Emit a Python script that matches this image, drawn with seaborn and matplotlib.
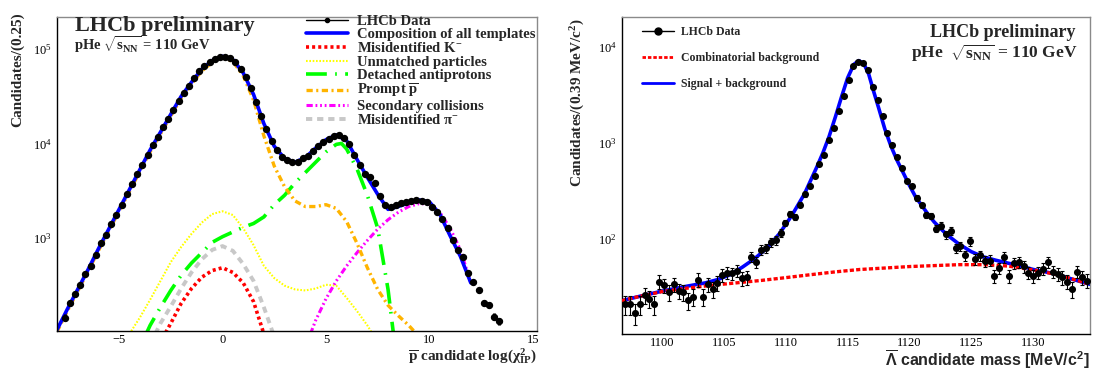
import numpy as np
import pandas as pd
import matplotlib
matplotlib.use("Agg")
import matplotlib.pyplot as plt
import seaborn as sns
from matplotlib.lines import Line2D
from matplotlib.ticker import LogLocator, MultipleLocator, NullFormatter

sns.set_theme(style="white")
plt.rcParams['font.family'] = ['Liberation Serif', 'DejaVu Serif']
plt.rcParams['mathtext.fontset'] = 'custom'
plt.rcParams['mathtext.rm'] = 'Liberation Serif'
plt.rcParams['mathtext.bf'] = 'Liberation Serif:bold'
plt.rcParams['mathtext.it'] = 'Liberation Serif:italic'
plt.rcParams['mathtext.sf'] = 'Liberation Sans:bold'
plt.rcParams['mathtext.default'] = 'regular'
plt.rcParams['lines.scale_dashes'] = False
plt.rcParams['axes.unicode_minus'] = True

# ---------------- Left panel data: log(chi2_IP) ----------------
ip_bin_width = 0.25
ip_centers = np.arange(-7.625, 13.4, ip_bin_width)
ip_counts = [141, 204, 251, 316, 407, 501, 661, 871, 1072, 1380,
             1738, 2239, 2884, 3715, 4786, 5888, 7586, 9550, 11750, 14790,
             18200, 22900, 28200, 34700, 40700, 49000, 58900, 66100, 72400, 79400,
             83200, 83200, 81300, 72400, 61700, 51300, 38900, 27500, 19500, 14100,
             10500, 8510, 7240, 6610, 6310, 6310, 6920, 7410, 8320, 9330,
             10470, 11220, 12020, 12300, 11480, 9770, 7590, 5890, 4790, 4370,
             3800, 2750, 2240, 2140, 2240, 2340, 2400, 2450, 2510, 2450,
             2400, 2140, 1860, 1585, 1260, 955, 741, 617, 417, 339,
             275, 204, 191, 145, 129]

comp_x = [-8, -7.5, -7, -6.5, -6, -5.5, -5, -4.5, -4, -3.5, -3, -2.5, -2, -1.5, -1, -0.5,
          0, 0.5, 1, 1.5, 2, 2.5, 3, 3.5, 4, 4.5, 5, 5.5, 6, 6.5, 7, 7.5, 8, 8.5, 9, 9.5,
          10, 10.5, 11, 11.5, 12]
comp_y = [105, 174, 282, 457, 759, 1230, 1995, 3236, 5248, 8511, 13180, 20420, 31620,
          44670, 61660, 75860, 84140, 77620, 56230, 33110, 16220, 9333, 6918, 6310, 7079,
          8913, 10960, 12300, 10720, 6761, 4365, 2884, 1995, 2138, 2344, 2512, 2399, 1778,
          1047, 631, 331]

prompt_x = [-8, -7.5, -7, -6.5, -6, -5.5, -5, -4.5, -4, -3.5, -3, -2.5, -2, -1.5, -1, -0.5,
            0, 0.5, 1, 1.5, 2, 2.5, 3, 3.5, 4, 4.5, 5, 5.5, 6, 6.5, 7, 7.5, 8, 8.5, 9, 9.5]
prompt_y = [100, 166, 269, 437, 724, 1175, 1905, 3090, 5012, 8128, 12590, 19500, 30200,
            42660, 58880, 72440, 81280, 74130, 52480, 28840, 12020, 5754, 3467, 2455, 2138,
            2138, 2239, 2042, 1479, 871, 479, 282, 191, 148, 117, 89]

detached_x = [-3.75, -3.5, -3, -2.5, -2, -1.5, -1, -0.5, 0, 0.5, 1, 1.5, 2, 2.5, 3, 3.5,
              4, 4.5, 5, 5.5, 5.75, 6, 6.5, 7, 7.5, 8, 8.25, 8.4]
detached_y = [89, 117, 182, 275, 398, 537, 692, 891, 1023, 1148, 1288, 1413, 1660, 2239,
              2818, 3802, 4898, 6310, 8128, 9772, 10000, 8710, 5370, 2818, 1259, 282, 100, 63]

unmatched_x = [-4.5, -4, -3.5, -3, -2.5, -2, -1.5, -1, -0.5, 0, 0.5, 1, 1.5, 2, 2.5, 3,
               3.5, 4, 4.5, 5, 5.5, 6, 6.5, 7, 7.25]
unmatched_y = [95, 141, 219, 347, 550, 794, 1096, 1445, 1778, 1905, 1738, 1259, 832, 501,
               372, 309, 282, 275, 288, 316, 309, 229, 166, 117, 95]

mispi_x = [-3.25, -3, -2.5, -2, -1.5, -1, -0.5, 0, 0.5, 1, 1.5, 2, 2.5]
mispi_y = [95, 123, 186, 288, 427, 589, 741, 813, 724, 525, 347, 182, 89]

misk_x = [-2.75, -2.5, -2, -1.5, -1, -0.5, 0, 0.5, 1, 1.5, 2]
misk_y = [98, 123, 200, 288, 380, 447, 479, 427, 331, 209, 95]

second_x = [4.25, 4.5, 5, 5.5, 6, 6.5, 7, 7.5, 8, 8.5, 9, 9.5, 10, 10.5, 11, 11.5, 12]
second_y = [95, 132, 224, 347, 501, 692, 933, 1230, 1549, 1862, 2138, 2291, 2291, 1862,
            1259, 741, 331]

# ---------------- Right panel data: Lambda-bar mass ----------------
mass_bin_width = 0.393
mass_centers = np.round(1097.0 + mass_bin_width * np.arange(96), 3)
mass_counts = [21, 21, 17, 21, 26, 24, 21, 36, 33, 28,
               34, 29, 28, 23, 25, 38, 25, 34, 30, 35,
               42, 45, 44, 47, 39, 40, 66, 58, 78, 81,
               93, 97, 117, 148, 182, 170, 229, 295, 359, 457,
               610, 759, 1072, 1445, 2188, 3090, 4571, 6310, 7079, 6839,
               5754, 3890, 2818, 1905, 1288, 955, 716, 550, 407, 359,
               269, 226, 178, 174, 129, 138, 112, 123, 81, 85,
               68, 95, 62, 68, 59, 60, 41, 50, 65, 41,
               56, 58, 52, 45, 41, 45, 49, 58, 46, 43,
               40, 36, 30, 46, 40, 37]

bkg_x = [1096.75, 1098, 1100, 1102, 1104, 1106, 1108, 1110, 1112, 1114, 1116, 1118, 1120,
         1122, 1124, 1126, 1128, 1130, 1132, 1134.6]
bkg_y = [22.9, 25.1, 28.5, 30.9, 33.1, 35.1, 37.2, 39.8, 42.7, 45.7, 48.4, 50.1, 51.9,
         53.1, 54.3, 54.3, 52.5, 47.9, 42.7, 33.9]

sig_x = [1096.75, 1098, 1100, 1102, 1103.5, 1104.5, 1105.5, 1106.5, 1107.5, 1108.5, 1109.5,
         1110.5, 1111.5, 1112.5, 1113.0, 1113.5, 1114.0, 1114.5, 1115.0, 1115.5, 1115.9,
         1116.3, 1116.7, 1117.1, 1117.5, 1118.0, 1118.5, 1119.0, 1119.5, 1120.0, 1120.5,
         1121.0, 1121.5, 1122.0, 1123.0, 1124.0, 1125.0, 1126.0, 1127.0, 1128.0, 1129.0,
         1130.0, 1131.0, 1132.0, 1133.0, 1134.6]
sig_y = [22.9, 25.1, 28.8, 32.4, 35.1, 38.0, 42.7, 51.3, 63.1, 81.3, 115, 178, 295, 562,
         794, 1175, 1862, 3020, 4786, 6607, 7244, 6761, 5248, 3467, 2344, 1413, 933, 661,
         490, 363, 275, 224, 182, 151, 112, 89.1, 74.1, 65.3, 60.3, 56.2, 52.5, 48.4, 45.7,
         42.7, 38.9, 33.9]

# ---------------- Figure ----------------
W, H = 1093, 372
fig = plt.figure(figsize=(W / 100, H / 100), dpi=100)
fig.patch.set_facecolor('white')


def fx(x):
    return x / W


def fy(y):
    return 1 - y / H


ax1 = fig.add_axes([fx(57), fy(331), (537 - 57) / W, (331 - 17) / H])
ax2 = fig.add_axes([fx(622), fy(334), (1090 - 622) / W, (334 - 17) / H])
for ax in (ax1, ax2):
    ax.set_yscale('log')
    ax.set_facecolor('white')
    ax.grid(False)

# styles
st_misk = dict(color='#ff0000', linewidth=2.6, linestyle=(0, (2.2, 2.2)))
st_unm = dict(color='#ffff00', linewidth=1.5, linestyle=(0, (1.2, 1.2)))
st_det = dict(color='#00ff00', linewidth=2.6, linestyle=(0, (15, 6, 1.2, 6)))
st_prm = dict(color='#ffb400', linewidth=2.4, linestyle=(0, (4.5, 2.5, 1.5, 2.5)))
st_sec = dict(color='#ff00ff', linewidth=2.2, linestyle=(0, (4.5, 2, 1.3, 2, 1.3, 2, 1.3, 2)))
st_pi = dict(color='#c8c8c8', linewidth=2.8, linestyle=(0, (4.5, 3.5)))
st_comp = dict(color='#0000ff', linewidth=2.6, linestyle='-')

ax1.set_xlim(-8, 15.2)
ax1.set_ylim(102, 2.2e5)

templates = [
    (unmatched_x, unmatched_y, st_unm),
    (mispi_x, mispi_y, st_pi),
    (misk_x, misk_y, st_misk),
    (second_x, second_y, st_sec),
    (detached_x, detached_y, st_det),
    (prompt_x, prompt_y, st_prm),
    (comp_x, comp_y, st_comp),
]
for xs, ys, st in templates:
    sns.lineplot(x=xs, y=ys, ax=ax1, estimator=None, sort=False, legend=False, **st)

df_ip = pd.DataFrame({'x': ip_centers, 'n': ip_counts})
df_ip['err'] = np.sqrt(df_ip['n'])
ax1.errorbar(df_ip['x'], df_ip['n'], xerr=ip_bin_width / 2, yerr=df_ip['err'], fmt='none',
             ecolor='black', elinewidth=2.2, capsize=0, zorder=5)
sns.scatterplot(data=df_ip, x='x', y='n', ax=ax1, color='black', s=28, marker='o',
                edgecolor='black', linewidth=0, zorder=6, legend=False)

# right panel
ax2.set_xlim(1096.75, 1134.6)
ax2.set_ylim(10.3, 2.06e4)
sns.lineplot(x=bkg_x, y=bkg_y, ax=ax2, estimator=None, sort=False, legend=False,
             color='#ff0000', linewidth=2.4, linestyle=(0, (3, 1.6)), zorder=3)
sns.lineplot(x=sig_x, y=sig_y, ax=ax2, estimator=None, sort=False, legend=False,
             color='#0000ff', linewidth=2.6, linestyle='-', zorder=2)
df_m = pd.DataFrame({'m': mass_centers, 'n': mass_counts})
df_m['err'] = np.sqrt(df_m['n'])
ax2.errorbar(df_m['m'], df_m['n'], yerr=df_m['err'], fmt='none', ecolor='black',
             elinewidth=0.8, capsize=1.5, capthick=0.8, zorder=5)
sns.scatterplot(data=df_m, x='m', y='n', ax=ax2, color='black', s=26, marker='o',
                edgecolor='black', linewidth=0, zorder=6, legend=False)

# axes styling
for ax in (ax1, ax2):
    ax.set_xlabel('')
    ax.set_ylabel('')
    for side in ('left', 'bottom'):
        ax.spines[side].set_color('black')
        ax.spines[side].set_linewidth(1.0)
    for side in ('top', 'right'):
        ax.spines[side].set_color('#8a8a8a')
        ax.spines[side].set_linewidth(1.0)
    ax.xaxis.set_major_locator(MultipleLocator(5))
    ax.xaxis.set_minor_locator(MultipleLocator(1))
    ax.yaxis.set_major_locator(LogLocator(base=10, numticks=10))
    ax.yaxis.set_minor_locator(LogLocator(base=10, subs=np.arange(2, 10), numticks=20))
    ax.yaxis.set_minor_formatter(NullFormatter())
    ax.tick_params(which='both', direction='in', top=False, right=False, colors='black',
                   labelsize=9, width=1.0)
    ax.tick_params(axis='x', pad=2)
    ax.tick_params(axis='y', pad=4)

ax1.tick_params(axis='y', which='major', length=10)
ax1.tick_params(axis='y', which='minor', length=5)
ax1.tick_params(axis='x', which='major', length=8)
ax1.tick_params(axis='x', which='minor', length=4)
ax2.tick_params(axis='y', which='major', length=10.5)
ax2.tick_params(axis='y', which='minor', length=5)
ax2.tick_params(axis='x', which='major', length=6.5)
ax2.tick_params(axis='x', which='minor', length=3.2)

# legends
leg_prop = {'family': 'Liberation Serif', 'weight': 'bold', 'size': 10.5}
h1 = [
    Line2D([], [], color='black', linewidth=1.0, marker='o', markersize=3),
    Line2D([], [], **st_comp),
    Line2D([], [], **st_misk),
    Line2D([], [], **st_unm),
    Line2D([], [], **st_det),
    Line2D([], [], **st_prm),
    Line2D([], [], **st_sec),
    Line2D([], [], **st_pi),
]
l1 = ['LHCb Data', 'Composition of all templates', r'Misidentified K$^{-}$',
      'Unmatched particles', 'Detached antiprotons', r'Prompt $\overline{p}$',
      'Secondary collisions', r'Misidentified $\pi^{-}$']
ax1.legend(h1, l1, loc='upper left', bbox_to_anchor=(fx(306), fy(15)),
           bbox_transform=fig.transFigure, frameon=False, prop=leg_prop, numpoints=1,
           handlelength=2.9, handletextpad=0.6, labelspacing=0.0, borderpad=0,
           borderaxespad=0)

leg_prop2 = {'family': 'Liberation Serif', 'weight': 'bold', 'size': 8.5}
h2 = [
    Line2D([], [], color='black', linewidth=1.0, marker='o', markersize=5),
    Line2D([], [], color='#ff0000', linewidth=2.0, linestyle=(0, (2.5, 1.4))),
    Line2D([], [], color='#0000ff', linewidth=2.0),
]
l2 = ['LHCb Data', 'Combinatorial background', 'Signal + background']
ax2.legend(h2, l2, loc='upper left', bbox_to_anchor=(fx(642), fy(26)),
           bbox_transform=fig.transFigure, frameon=False, prop=leg_prop2, numpoints=1,
           handlelength=2.7, handletextpad=0.6, labelspacing=1.2, borderpad=0,
           borderaxespad=0)

# texts
bold = dict(fontweight='bold', family='Liberation Serif')
fig.text(fx(75), fy(31), 'LHCb preliminary', fontsize=16, ha='left', va='baseline', **bold)
fig.text(fx(74), fy(50), r'pHe $\sqrt{s_{NN}}$ = 110 GeV', fontsize=10.5, ha='left',
         va='baseline', **bold)
fig.text(fx(1075), fy(37), 'LHCb preliminary', fontsize=13, ha='right', va='baseline', **bold)
fig.text(fx(1077), fy(58), r'pHe  $\sqrt{s_{NN}}$ = 110 GeV', fontsize=12.5, ha='right',
         va='baseline', **bold)

fig.text(fx(18), fy(12), 'Candidates/(0.25)', rotation=90, ha='center', va='top',
         fontsize=11, **bold)
fig.text(fx(578), fy(18), r'Candidates/(0.39 MeV/c$^{2}$)', rotation=90, ha='center',
         va='top', fontsize=11, **bold)
fig.text(fx(537), fy(356), r'$\overline{p}$ candidate log($\chi^{2}_{IP}$)', ha='right',
         va='center', fontsize=11, **bold)
fig.text(fx(1090), fy(360), r'$\overline{\mathsf{\Lambda}}$ candidate mass [MeV/c$^{\mathsf{2}}$]',
         ha='right', va='center', fontsize=11.5, fontweight='bold', family='Liberation Sans')

fig.savefig('out.png', dpi=100, facecolor='white')
